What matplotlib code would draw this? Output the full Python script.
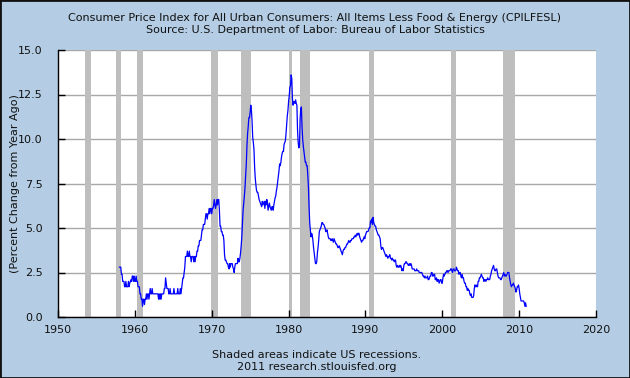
import numpy as np
import matplotlib
matplotlib.use("Agg")
import matplotlib.pyplot as plt
from matplotlib.patches import Rectangle

title = "Consumer Price Index for All Urban Consumers: All Items Less Food & Energy (CPILFESL)\nSource: U.S. Department of Labor: Bureau of Labor Statistics"
ylabel = "(Percent Change from Year Ago)"
footer = "Shaded areas indicate US recessions.\n2011 research.stlouisfed.org"

start_year = 1958
# Monthly year-over-year % change, one row per year (Jan..Dec)
cpi_1958_1969 = [
    2.8, 2.8, 2.8, 2.4, 2.4, 2.0, 2.0, 2.0, 1.7, 1.7, 2.0, 1.7,
    1.7, 1.7, 2.0, 1.7, 1.9, 2.0, 2.1, 2.0, 2.3, 2.3, 2.0, 2.3,
    2.0, 2.0, 2.3, 2.0, 2.0, 1.7, 1.7, 1.7, 1.3, 1.3, 1.0, 1.0,
    0.6, 1.0, 1.0, 0.7, 1.0, 1.0, 1.3, 1.0, 1.3, 1.3, 1.0, 1.3,
    1.6, 1.3, 1.3, 1.6, 1.3, 1.3, 1.3, 1.3, 1.3, 1.3, 1.3, 1.3,
    1.3, 1.0, 1.3, 1.0, 1.3, 1.0, 1.3, 1.3, 1.3, 1.3, 1.6, 1.6,
    2.2, 1.9, 1.6, 1.6, 1.6, 1.3, 1.3, 1.6, 1.3, 1.3, 1.3, 1.3,
    1.3, 1.6, 1.3, 1.3, 1.3, 1.3, 1.3, 1.6, 1.3, 1.3, 1.3, 1.6,
    1.3, 1.6, 1.9, 2.2, 2.2, 2.5, 2.8, 3.4, 3.4, 3.4, 3.7, 3.4,
    3.4, 3.7, 3.4, 3.4, 3.1, 3.4, 3.4, 3.4, 3.1, 3.4, 3.1, 3.4,
    3.4, 3.7, 3.7, 4.0, 4.0, 4.3, 4.3, 4.3, 4.6, 4.9, 4.9, 5.2,
    5.2, 5.2, 5.5, 5.8, 5.8, 5.5, 5.8, 5.8, 6.1, 5.8, 6.1, 6.1,
]
cpi_1970_1981 = [
    5.8, 6.1, 6.1, 6.3, 6.6, 6.3, 6.1, 6.3, 6.6, 6.3, 6.6, 6.6,
    6.0, 5.1, 5.1, 4.8, 4.8, 4.6, 4.6, 4.3, 3.5, 3.2, 3.2, 3.1,
    3.0, 3.0, 2.8, 2.7, 3.0, 2.8, 3.0, 3.0, 3.0, 2.8, 2.7, 2.5,
    2.8, 3.0, 3.0, 3.0, 3.0, 3.3, 3.1, 3.1, 3.3, 3.6, 4.0, 4.5,
    5.3, 6.0, 6.4, 6.8, 7.3, 7.9, 8.6, 9.6, 10.3, 10.7, 11.2, 11.2,
    11.5, 11.9, 11.6, 11.0, 10.1, 9.8, 9.4, 8.4, 7.8, 7.4, 7.1, 7.0,
    7.0, 6.8, 6.6, 6.5, 6.4, 6.3, 6.2, 6.5, 6.3, 6.4, 6.5, 6.1,
    6.5, 6.3, 6.6, 6.4, 6.0, 6.2, 6.4, 6.2, 6.1, 6.0, 6.2, 6.2,
    6.0, 6.3, 6.5, 6.7, 6.8, 7.1, 7.3, 7.6, 7.9, 8.2, 8.6, 8.5,
    8.7, 9.0, 9.2, 9.3, 9.3, 9.7, 9.8, 9.9, 10.3, 10.8, 11.3, 11.6,
    12.1, 12.4, 12.9, 13.0, 13.6, 13.4, 12.3, 11.9, 12.1, 12.1, 12.0, 12.2,
    12.0, 11.9, 10.5, 9.8, 9.5, 9.6, 11.1, 11.7, 11.8, 10.7, 10.0, 9.6,
]
cpi_1982_1993 = [
    9.3, 9.0, 8.7, 8.7, 8.5, 8.5, 8.0, 7.3, 6.2, 5.3, 4.9, 4.5,
    4.7, 4.6, 4.3, 3.9, 3.6, 3.3, 3.0, 3.0, 3.1, 3.6, 3.9, 4.3,
    4.8, 4.9, 5.0, 5.1, 5.3, 5.3, 5.2, 5.2, 5.1, 5.0, 4.8, 4.8,
    4.9, 4.7, 4.5, 4.4, 4.4, 4.4, 4.3, 4.3, 4.4, 4.3, 4.2, 4.4,
    4.3, 4.2, 4.1, 4.1, 4.0, 3.9, 3.9, 4.0, 3.9, 3.8, 3.7, 3.6,
    3.5, 3.7, 3.8, 3.8, 3.9, 3.9, 4.0, 4.1, 4.1, 4.2, 4.3, 4.2,
    4.2, 4.3, 4.3, 4.4, 4.4, 4.4, 4.5, 4.5, 4.6, 4.5, 4.6, 4.7,
    4.6, 4.7, 4.7, 4.5, 4.4, 4.3, 4.2, 4.3, 4.3, 4.4, 4.5, 4.4,
    4.6, 4.7, 4.8, 4.8, 4.8, 4.9, 5.0, 5.0, 5.4, 5.3, 5.5, 5.2,
    5.6, 5.3, 5.2, 5.1, 5.1, 4.9, 4.8, 4.7, 4.6, 4.6, 4.5, 4.4,
    4.0, 3.8, 3.9, 3.9, 3.8, 3.7, 3.6, 3.5, 3.4, 3.5, 3.4, 3.3,
    3.4, 3.4, 3.5, 3.3, 3.3, 3.2, 3.3, 3.2, 3.2, 3.1, 3.2, 3.2,
]
cpi_1994_2010 = [
    2.9, 2.8, 2.9, 2.8, 2.8, 2.9, 2.8, 2.9, 2.8, 2.6, 2.7, 2.6,
    2.9, 3.0, 3.0, 3.1, 3.1, 3.0, 3.0, 2.9, 2.9, 3.0, 2.9, 3.0,
    2.9, 2.7, 2.7, 2.7, 2.7, 2.6, 2.6, 2.6, 2.7, 2.6, 2.6, 2.6,
    2.5, 2.5, 2.5, 2.5, 2.5, 2.4, 2.3, 2.3, 2.2, 2.3, 2.2, 2.2,
    2.2, 2.3, 2.1, 2.1, 2.2, 2.3, 2.3, 2.5, 2.5, 2.3, 2.3, 2.4,
    2.4, 2.1, 2.1, 2.2, 2.0, 2.1, 2.1, 1.9, 2.0, 2.1, 2.1, 1.9,
    1.9, 2.2, 2.4, 2.3, 2.4, 2.5, 2.5, 2.6, 2.6, 2.5, 2.6, 2.6,
    2.6, 2.7, 2.7, 2.6, 2.5, 2.7, 2.7, 2.6, 2.6, 2.6, 2.8, 2.7,
    2.6, 2.6, 2.4, 2.5, 2.5, 2.3, 2.2, 2.4, 2.2, 2.2, 2.0, 1.9,
    1.9, 1.7, 1.7, 1.5, 1.6, 1.5, 1.5, 1.3, 1.2, 1.3, 1.1, 1.1,
    1.1, 1.2, 1.6, 1.8, 1.7, 1.8, 1.7, 1.7, 2.0, 2.0, 2.2, 2.2,
    2.3, 2.4, 2.3, 2.2, 2.2, 2.0, 2.1, 2.1, 2.0, 2.1, 2.1, 2.2,
    2.1, 2.1, 2.1, 2.3, 2.4, 2.6, 2.7, 2.8, 2.9, 2.7, 2.6, 2.6,
    2.7, 2.7, 2.5, 2.3, 2.2, 2.2, 2.2, 2.1, 2.1, 2.2, 2.3, 2.4,
    2.5, 2.3, 2.4, 2.3, 2.3, 2.4, 2.5, 2.5, 2.5, 2.2, 2.0, 1.8,
    1.7, 1.8, 1.8, 1.9, 1.8, 1.7, 1.6, 1.4, 1.5, 1.7, 1.7, 1.8,
    1.6, 1.3, 1.1, 0.9, 0.9, 0.9, 0.9, 0.9, 0.8, 0.6, 0.8, 0.6,
]

# NBER recessions (peak month, trough month) as (year, month)
recession_starts = [(1953, 7), (1957, 8), (1960, 4), (1969, 12), (1973, 11),
                    (1980, 1), (1981, 7), (1990, 7), (2001, 3), (2007, 12)]
recession_ends = [(1954, 5), (1958, 4), (1961, 2), (1970, 11), (1975, 3),
                  (1980, 7), (1982, 11), (1991, 3), (2001, 11), (2009, 6)]

x_ticks = [1950, 1960, 1970, 1980, 1990, 2000, 2010, 2020]
y_ticks = [0.0, 2.5, 5.0, 7.5, 10.0, 12.5, 15.0]

values = np.array(cpi_1958_1969 + cpi_1970_1981 + cpi_1982_1993 + cpi_1994_2010)
dates = start_year + np.arange(len(values)) / 12.0

def ym(t):
    return t[0] + (t[1] - 1) / 12.0

bg = "#B4CDE4"
fig = plt.figure(figsize=(6.3, 3.78), dpi=100, facecolor=bg)
ax = fig.add_axes([58 / 630, 1 - 317 / 378, (596 - 58) / 630, (317 - 50) / 378])
ax.set_facecolor("white")

for s, e in zip(recession_starts, recession_ends):
    ax.axvspan(ym(s), ym(e), color="#BEBEBE", lw=0, zorder=1)

for yv in y_ticks:
    ax.axhline(yv, color="#A8A8A8", lw=1.0, zorder=0.5)

ax.plot(dates, values, color="#0000FF", lw=0.9, zorder=3)

ax.set_xlim(1950, 2020)
ax.set_ylim(0, 15)
ax.set_xticks(x_ticks)
ax.set_yticks(y_ticks)
ax.set_yticklabels([f"{v:.1f}" for v in y_ticks])
ax.tick_params(direction="in", length=5, width=1, color="black",
               labelsize=8, labelcolor="#111111")
ax.tick_params(axis="x", pad=6)
ax.tick_params(axis="y", pad=11)
for side in ["top", "right"]:
    ax.spines[side].set_visible(False)
for side in ["left", "bottom"]:
    ax.spines[side].set_color("black")
    ax.spines[side].set_linewidth(1.0)

ax.set_ylabel(ylabel, fontsize=8, color="#111111")
ax.yaxis.set_label_coords(-38 / 538, 0.5)

fig.text(0.5, 1 - 24 / 378, title, ha="center", va="center", fontsize=8,
         color="#111111", linespacing=1.3)
fig.text(317 / 630, 1 - 361 / 378, footer, ha="center", va="center", fontsize=8,
         color="#111111", linespacing=1.35)

fig.patches.append(Rectangle((0, 0), 1, 1, transform=fig.transFigure,
                             fill=False, edgecolor="#111111", lw=2.0))

fig.savefig("out.png", dpi=100, facecolor=bg)
